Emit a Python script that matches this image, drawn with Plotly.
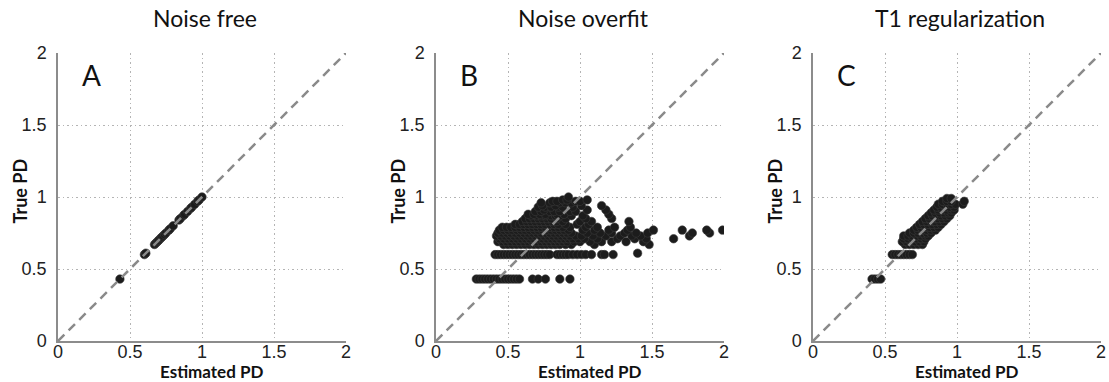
import plotly.graph_objects as go

W, H = 1109, 382

# ---------------- data ----------------
panel_titles = ["Noise free", "Noise overfit", "T1 regularization"]
panel_letters = ["A", "B", "C"]
tick_vals = [0, 0.5, 1, 1.5, 2]
tick_text = ["0", "0.5", "1", "1.5", "2"]
identity_line = [0, 2]

# Panel A (noise free): estimated == true
a_est = [0.43, 0.60, 0.61, 0.67, 0.68, 0.69, 0.70, 0.71, 0.72, 0.73, 0.74, 0.75,
         0.77, 0.78, 0.80, 0.84, 0.85, 0.87, 0.88, 0.90, 0.92, 0.93, 0.95, 0.97,
         0.98, 1.00]
a_true = [0.43, 0.60, 0.61, 0.67, 0.68, 0.69, 0.70, 0.71, 0.72, 0.73, 0.74, 0.75,
          0.77, 0.78, 0.80, 0.84, 0.85, 0.87, 0.88, 0.90, 0.92, 0.93, 0.95, 0.97,
          0.98, 1.00]

# Panel B (noise overfit): rows of (true PD level, estimated PD values)
b_levels = [0.43, 0.60, 0.61, 0.67, 0.69, 0.71, 0.73, 0.75, 0.77, 0.79, 0.81,
            0.83, 0.85, 0.87, 0.88, 0.90, 0.91, 0.93, 0.94, 0.96, 0.97, 0.98, 1.00]
b_est_rows = [
    [0.28, 0.30, 0.32, 0.34, 0.36, 0.38, 0.40, 0.42, 0.44, 0.46, 0.48, 0.50, 0.52,
     0.54, 0.56, 0.58, 0.67, 0.71, 0.76, 0.86, 0.93],
    [0.41, 0.43, 0.45, 0.47, 0.49, 0.51, 0.53, 0.55, 0.57, 0.59, 0.61, 0.63, 0.65,
     0.67, 0.69, 0.71, 0.73, 0.75, 0.77, 0.79, 0.84, 0.86, 0.88, 0.90, 0.92, 0.95,
     0.98, 1.01, 1.04, 1.08, 1.15, 1.17, 1.23],
    [1.40],
    [0.47, 0.50, 0.53, 0.56, 0.59, 0.62, 0.65, 0.68, 0.71, 0.74, 0.77, 0.80, 0.83,
     0.86, 0.90, 0.94, 1.10, 1.48],
    [0.43, 0.46, 0.49, 0.52, 0.55, 0.58, 0.61, 0.64, 0.67, 0.70, 0.73, 0.76, 0.79,
     0.82, 0.85, 0.88, 0.91, 0.96, 1.00, 1.07, 1.15, 1.22, 1.32, 1.44],
    [0.44, 0.47, 0.50, 0.53, 0.56, 0.59, 0.62, 0.65, 0.68, 0.71, 0.74, 0.77, 0.80,
     0.83, 0.86, 0.89, 0.92, 0.95, 0.99, 1.03, 1.12, 1.26, 1.38, 1.46, 1.65],
    [0.42, 0.45, 0.48, 0.51, 0.54, 0.57, 0.60, 0.63, 0.66, 0.69, 0.72, 0.75, 0.78,
     0.81, 0.84, 0.87, 0.90, 0.93, 0.97, 1.01, 1.09, 1.18, 1.28, 1.36, 1.42, 1.76],
    [0.43, 0.46, 0.49, 0.52, 0.55, 0.58, 0.61, 0.64, 0.67, 0.70, 0.73, 0.76, 0.79,
     0.82, 0.85, 0.88, 0.91, 0.94, 1.05, 1.14, 1.22, 1.31, 1.39, 1.47, 1.78, 1.90],
    [0.44, 0.47, 0.50, 0.53, 0.56, 0.59, 0.62, 0.65, 0.68, 0.71, 0.74, 0.77, 0.80,
     0.83, 0.86, 0.89, 0.92, 1.02, 1.10, 1.20, 1.33, 1.51, 1.71, 1.88, 1.99],
    [0.46, 0.49, 0.52, 0.55, 0.58, 0.61, 0.64, 0.67, 0.70, 0.73, 0.76, 0.79, 0.82,
     0.85, 0.88, 0.93, 1.04, 1.12, 1.24, 1.35],
    [0.55, 0.58, 0.61, 0.64, 0.67, 0.70, 0.73, 0.76, 0.79, 0.82, 0.85, 0.90, 0.98,
     1.06],
    [0.60, 0.63, 0.66, 0.69, 0.72, 0.75, 0.78, 0.81, 0.84, 0.88, 1.00, 1.08, 1.34],
    [0.62, 0.65, 0.68, 0.71, 0.74, 0.77, 0.80, 0.84, 0.90, 1.04, 1.22],
    [0.66, 0.70, 0.73, 0.76, 0.80, 0.83, 0.86, 0.94, 1.02],
    [0.64, 0.68, 0.72, 0.76, 0.84, 0.89, 1.20],
    [0.69, 0.73, 0.79, 0.82, 0.86, 0.93, 0.97],
    [1.18, 1.05, 0.75],
    [0.71, 0.76, 0.80, 0.85, 0.88, 0.95],
    [0.74, 0.83, 1.01, 1.15],
    [0.73, 0.79, 0.86, 0.90, 0.94],
    [0.81, 0.84, 0.97, 1.00],
    [0.88, 0.91, 1.05],
    [0.92],
]

# Panel C (T1 regularization)
c_levels = [0.43, 0.60, 0.67, 0.69, 0.71, 0.73, 0.75, 0.77, 0.79, 0.81, 0.83,
            0.85, 0.87, 0.89, 0.91, 0.93, 0.95, 0.97, 0.99]
c_est_rows = [
    [0.41, 0.43, 0.45, 0.47],
    [0.55, 0.57, 0.59, 0.61, 0.63, 0.65, 0.67, 0.69],
    [0.64, 0.67, 0.70, 0.73, 0.76],
    [0.62, 0.65, 0.68, 0.71, 0.74, 0.77],
    [0.63, 0.66, 0.69, 0.72, 0.75, 0.78],
    [0.63, 0.66, 0.69, 0.72, 0.75, 0.78, 0.80],
    [0.67, 0.70, 0.73, 0.76, 0.79, 0.82],
    [0.70, 0.73, 0.76, 0.79, 0.82, 0.85],
    [0.72, 0.75, 0.78, 0.81, 0.84, 0.87],
    [0.74, 0.77, 0.80, 0.83, 0.86, 0.89],
    [0.76, 0.79, 0.82, 0.85, 0.88, 0.91],
    [0.78, 0.81, 0.84, 0.87, 0.90, 0.93],
    [0.80, 0.83, 0.86, 0.89, 0.92, 0.95],
    [0.82, 0.85, 0.88, 0.91, 0.94, 0.96],
    [0.84, 0.87, 0.90, 0.93, 0.96, 0.98],
    [0.86, 0.89, 0.92, 0.95, 0.98],
    [0.87, 0.90, 0.93, 0.96, 0.99, 1.04],
    [0.90, 0.93, 0.96, 1.05],
    [0.93, 0.96],
]


def flatten(levels, rows):
    xs, ys = [], []
    for lvl, row in zip(levels, rows):
        for v in row:
            xs.append(v)
            ys.append(lvl)
    return xs, ys


b_est, b_true = flatten(b_levels, b_est_rows)
c_est, c_true = flatten(c_levels, c_est_rows)
panels = [(a_est, a_true), (b_est, b_true), (c_est, c_true)]

# ---------------- layout geometry (pixels) ----------------
plot_left = [58, 436, 813]
plot_w = 288
plot_top, plot_bottom = 53, 341
plot_h = plot_bottom - plot_top

MARKER = "#1c1c1c"
GRID = "#b4b4b4"
AXIS = "#8c8c8c"
DASH = "#8a8a8a"
TEXT = "#111111"

fig = go.Figure()
layout = dict(width=W, height=H, margin=dict(l=0, r=0, t=0, b=0, pad=0),
              paper_bgcolor="white", plot_bgcolor="white", showlegend=False,
              annotations=[])

for i, (xs, ys) in enumerate(panels):
    xa = "x" if i == 0 else f"x{i+1}"
    ya = "y" if i == 0 else f"y{i+1}"
    fig.add_trace(go.Scatter(x=xs, y=ys, mode="markers", xaxis=xa, yaxis=ya,
                             marker=dict(size=8.5, color=MARKER,
                                         line=dict(width=0.6, color="#3a3a3a")),
                             hoverinfo="skip"))
    fig.add_trace(go.Scatter(x=identity_line, y=identity_line, mode="lines",
                             xaxis=xa, yaxis=ya,
                             line=dict(color=DASH, width=2.5, dash="9px,6px"),
                             hoverinfo="skip"))
    x0 = plot_left[i] / W
    x1 = (plot_left[i] + plot_w) / W
    axis_common = dict(range=[0, 2], tickvals=tick_vals, ticktext=tick_text,
                       showgrid=True, gridcolor=GRID, griddash="1.5px,3px",
                       gridwidth=1, showline=True, linecolor=AXIS, linewidth=1.5,
                       zeroline=False, ticks="", fixedrange=True, automargin=False,
                       tickfont=dict(family="Liberation Sans, Arial", size=18,
                                     color="#222222"))
    layout["xaxis" if i == 0 else f"xaxis{i+1}"] = dict(
        axis_common, domain=[x0, x1], anchor=ya, ticklabelstandoff=-6)
    layout["yaxis" if i == 0 else f"yaxis{i+1}"] = dict(
        axis_common, domain=[1 - plot_bottom / H, 1 - plot_top / H], anchor=xa,
        ticklabelstandoff=6)

    xd = f"{xa} domain"
    yd = f"{ya} domain"

    def fx(px):
        return (px - plot_left[i]) / plot_w

    def fy(py):
        return (plot_bottom - py) / plot_h

    cx = plot_left[i] + plot_w / 2
    # panel title
    layout["annotations"].append(dict(
        text=panel_titles[i], x=fx(cx + 3), y=fy(18), xref=xd, yref=yd,
        showarrow=False, xanchor="center", yanchor="middle",
        font=dict(family="Lato", size=23, color=TEXT)))
    # x axis title
    layout["annotations"].append(dict(
        text="<b>Estimated PD</b>", x=fx(cx + 9), y=fy(371.5), xref=xd, yref=yd,
        showarrow=False, xanchor="center", yanchor="middle",
        font=dict(family="Lato", size=17, color=TEXT)))
    # y axis title
    layout["annotations"].append(dict(
        text="<b>True PD</b>", x=fx(plot_left[i] - 38.5), y=fy(191), xref=xd,
        yref=yd, showarrow=False, textangle=-90, xanchor="center",
        yanchor="middle", font=dict(family="Lato", size=18, color=TEXT)))
    # panel letter
    layout["annotations"].append(dict(
        text=panel_letters[i], x=0.23, y=1.85, xref=xa, yref=ya,
        showarrow=False, xanchor="center", yanchor="middle",
        font=dict(family="Lato", size=28, color=TEXT)))

fig.update_layout(**layout)
fig.write_html("out.html",
               post_script="document.body.style.margin='0';"
                           "document.body.style.overflow='hidden';")
